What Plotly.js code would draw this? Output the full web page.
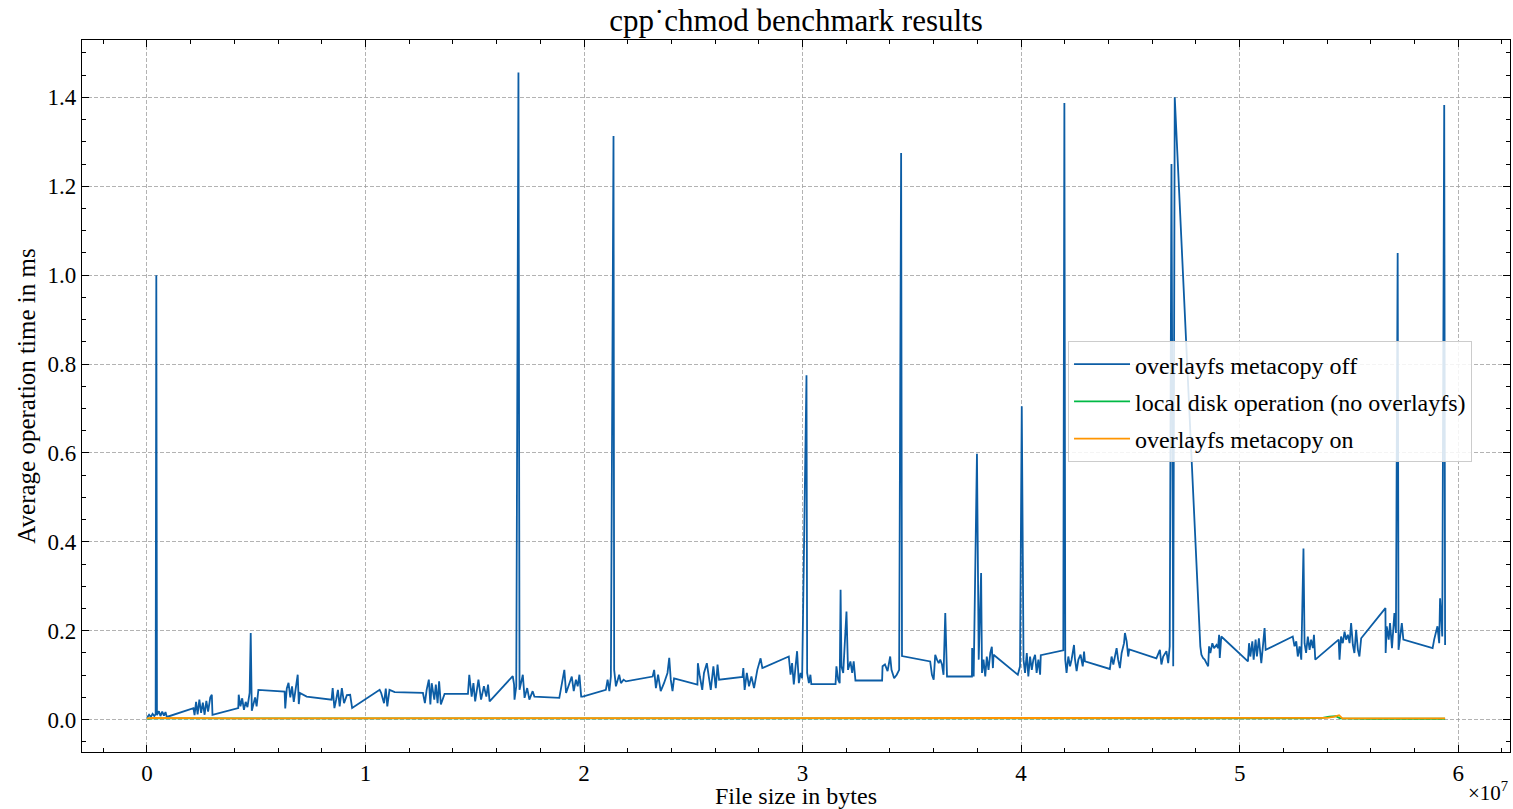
<!DOCTYPE html>
<html>
<head>
<meta charset="utf-8">
<script src="https://cdn.plot.ly/plotly-3.0.1.min.js"></script>
<style>html,body{margin:0;padding:0;background:#fff;}#chart{width:1513px;height:809px;}</style>
</head>
<body>
<div id="chart"></div>
<script>
// ---- data (file size in bytes, average time in ms) ----
const offX = [
0.000e7,0.010e7,0.018e7,0.026e7,0.034e7,0.040e7,0.043e7,0.046e7,0.055e7,0.062e7,0.070e7,0.078e7,0.085e7,0.091e7,
0.213e7,0.218e7,0.225e7,0.232e7,0.240e7,0.248e7,0.256e7,0.264e7,0.272e7,0.280e7,0.290e7,0.297e7,0.300e7,
0.418e7,0.420e7,0.428e7,0.436e7,0.444e7,0.452e7,0.460e7,0.470e7,0.475e7,0.480e7,0.488e7,0.495e7,0.502e7,0.510e7,
0.630e7,0.633e7,0.640e7,0.648e7,0.656e7,0.664e7,0.672e7,0.680e7,0.690e7,0.695e7,0.700e7,0.731e7,
0.845e7,0.850e7,0.858e7,0.866e7,0.874e7,0.882e7,0.892e7,0.902e7,0.915e7,0.930e7,0.939e7,
1.065e7,1.072e7,1.085e7,1.093e7,1.100e7,1.110e7,1.134e7,
1.263e7,1.272e7,1.280e7,1.290e7,1.297e7,1.303e7,1.315e7,1.322e7,1.330e7,1.337e7,1.345e7,1.362e7,
1.469e7,1.475e7,1.486e7,1.494e7,1.502e7,1.517e7,1.529e7,1.542e7,1.553e7,1.561e7,1.568e7,
1.674e7,1.680e7,1.682e7,1.690e7,1.700e7,1.705e7,1.720e7,1.728e7,1.740e7,1.750e7,1.765e7,1.773e7,
1.887e7,1.903e7,1.910e7,1.918e7,1.933e7,1.944e7,1.953e7,1.963e7,1.971e7,1.979e7,1.987e7,1.994e7,
2.100e7,2.108e7,2.116e7,2.123e7,2.135e7,2.138e7,2.146e7,2.161e7,2.169e7,2.181e7,2.192e7,
2.314e7,2.321e7,2.329e7,2.339e7,2.351e7,2.366e7,2.382e7,2.390e7,2.397e7,2.405e7,2.412e7,
2.519e7,2.521e7,2.530e7,2.541e7,2.549e7,2.562e7,2.573e7,2.580e7,2.592e7,2.603e7,2.611e7,2.618e7,
2.725e7,2.729e7,2.735e7,2.745e7,2.755e7,2.766e7,2.778e7,2.793e7,2.808e7,2.816e7,
2.937e7,2.945e7,2.952e7,2.960e7,2.968e7,2.975e7,2.983e7,2.991e7,2.998e7,3.018e7,3.021e7,3.029e7,3.036e7,3.040e7,
3.151e7,3.155e7,3.163e7,3.170e7,3.174e7,3.178e7,3.186e7,3.201e7,3.208e7,3.219e7,3.227e7,3.234e7,3.242e7,
3.364e7,3.366e7,3.377e7,3.389e7,3.401e7,3.407e7,3.419e7,3.431e7,3.442e7,3.451e7,3.455e7,
3.584e7,3.592e7,3.600e7,3.607e7,3.615e7,3.623e7,3.630e7,3.638e7,3.645e7,3.653e7,3.661e7,
3.775e7,3.776e7,3.783e7,3.798e7,3.806e7,3.817e7,3.821e7,3.828e7,3.836e7,3.843e7,3.851e7,3.859e7,3.866e7,3.871e7,3.874e7,
3.985e7,3.995e7,4.003e7,4.011e7,4.018e7,4.026e7,4.033e7,4.041e7,4.049e7,4.056e7,4.064e7,4.071e7,4.079e7,4.087e7,4.090e7,
4.193e7,4.198e7,4.202e7,4.208e7,4.216e7,4.224e7,4.231e7,4.242e7,4.246e7,4.254e7,4.262e7,4.272e7,4.282e7,4.288e7,4.292e7,
4.406e7,4.414e7,4.422e7,4.437e7,4.444e7,4.452e7,4.460e7,4.471e7,4.475e7,4.483e7,4.490e7,4.495e7,
4.619e7,4.627e7,4.635e7,4.642e7,4.650e7,4.665e7,4.673e7,4.680e7,4.688e7,4.696e7,4.703e7,
4.820e7,4.825e7,4.833e7,4.840e7,4.848e7,4.856e7,4.860e7,4.866e7,4.875e7,4.883e7,4.894e7,4.901e7,4.906e7,4.909e7,4.916e7,
5.038e7,5.043e7,5.049e7,5.058e7,5.064e7,5.073e7,5.079e7,5.088e7,5.099e7,5.107e7,5.114e7,5.119e7,
5.243e7,5.251e7,5.259e7,5.266e7,5.274e7,5.282e7,5.292e7,5.297e7,5.304e7,5.312e7,5.320e7,5.327e7,5.335e7,5.340e7,5.346e7,
5.453e7,5.457e7,5.464e7,5.472e7,5.480e7,5.487e7,5.495e7,5.503e7,5.510e7,5.518e7,5.525e7,5.533e7,5.541e7,5.548e7,5.556e7,
5.667e7,5.668e7,5.673e7,5.682e7,5.688e7,5.697e7,5.708e7,5.715e7,5.723e7,5.727e7,5.733e7,5.742e7,5.749e7,
5.883e7,5.890e7,5.897e7,5.905e7,5.913e7,5.917e7,5.923e7,5.927e7,5.936e7,5.940e7
];
const offY = [
0.004,0.011,0.006,0.013,0.008,0.012,1.000,0.010,0.019,0.008,0.018,0.009,0.017,0.006,
0.026,0.010,0.040,0.012,0.045,0.015,0.038,0.011,0.042,0.018,0.050,0.056,0.011,
0.026,0.056,0.030,0.048,0.022,0.040,0.028,0.060,0.195,0.020,0.035,0.050,0.030,0.067,
0.063,0.025,0.070,0.083,0.050,0.075,0.040,0.065,0.101,0.035,0.060,0.052,
0.045,0.071,0.026,0.045,0.067,0.030,0.071,0.037,0.055,0.056,0.026,
0.067,0.060,0.037,0.070,0.030,0.067,0.062,
0.060,0.037,0.067,0.090,0.034,0.082,0.045,0.079,0.037,0.086,0.034,0.058,
0.058,0.101,0.052,0.082,0.041,0.090,0.045,0.075,0.052,0.079,0.041,
0.098,0.079,0.045,0.075,1.456,0.067,0.101,0.049,0.071,0.045,0.064,0.052,
0.049,0.090,0.112,0.060,0.082,0.097,0.064,0.090,0.075,0.101,0.052,0.052,
0.067,0.090,0.064,0.097,1.313,0.112,0.075,0.101,0.082,0.090,0.086,
0.097,0.112,0.071,0.101,0.064,0.082,0.105,0.139,0.090,0.064,0.093,
0.079,0.127,0.097,0.067,0.105,0.127,0.090,0.067,0.120,0.071,0.124,0.090,
0.096,0.116,0.067,0.105,0.075,0.097,0.071,0.112,0.138,0.116,
0.142,0.101,0.127,0.079,0.120,0.154,0.082,0.105,0.093,0.775,0.105,0.082,0.101,0.080,
0.080,0.120,0.090,0.082,0.292,0.120,0.105,0.243,0.112,0.131,0.105,0.131,0.088,
0.088,0.120,0.124,0.109,0.142,0.112,0.093,0.101,0.112,1.275,0.143,
0.131,0.101,0.090,0.146,0.135,0.127,0.135,0.124,0.101,0.240,0.097,
0.097,0.161,0.097,0.598,0.135,0.330,0.105,0.135,0.097,0.142,0.112,0.150,0.164,0.116,0.146,
0.101,0.120,0.705,0.135,0.105,0.150,0.097,0.142,0.112,0.135,0.146,0.105,0.135,0.101,0.145,
0.156,1.387,0.135,0.105,0.142,0.120,0.135,0.168,0.138,0.109,0.135,0.146,0.120,0.153,0.131,
0.114,0.142,0.124,0.161,0.135,0.116,0.150,0.172,0.195,0.176,0.142,0.158,
0.138,0.150,0.157,0.124,0.142,0.154,0.127,0.165,1.250,0.120,1.400,
0.165,0.146,0.138,0.135,0.127,0.120,0.165,0.150,0.172,0.161,0.168,0.161,0.191,0.139,0.187,
0.131,0.172,0.142,0.176,0.135,0.180,0.142,0.183,0.127,0.168,0.206,0.157,
0.187,0.165,0.176,0.142,0.165,0.135,0.385,0.172,0.150,0.187,0.157,0.180,0.161,0.191,0.135,
0.180,0.135,0.187,0.172,0.198,0.180,0.191,0.172,0.217,0.168,0.150,0.202,0.157,0.142,0.183,
0.251,0.150,0.210,0.180,0.217,0.161,0.240,0.195,1.050,0.157,0.183,0.217,0.180,
0.161,0.180,0.195,0.210,0.172,0.273,0.225,0.187,1.383,0.168
];
const localX = [0.000e7,0.020e7,0.300e7,0.800e7,1.300e7,1.700e7,2.200e7,2.700e7,3.000e7,3.500e7,3.650e7,4.000e7,4.500e7,5.000e7,5.300e7,5.380e7,5.410e7,5.440e7,5.460e7,5.600e7,5.940e7];
const localY = [0.002,0.003,0.003,0.003,0.003,0.003,0.003,0.003,0.003,0.003,0.003,0.003,0.003,0.002,0.003,0.004,0.007,0.008,0.003,0.002,0.002];
const onX = [0.000e7,0.020e7,0.400e7,0.900e7,1.400e7,1.700e7,2.100e7,2.600e7,3.100e7,3.500e7,3.650e7,4.100e7,4.600e7,5.000e7,5.300e7,5.400e7,5.430e7,5.455e7,5.470e7,5.650e7,5.940e7];
const onY = [0.003,0.004,0.003,0.003,0.003,0.004,0.003,0.003,0.003,0.003,0.004,0.003,0.003,0.003,0.003,0.004,0.006,0.010,0.003,0.003,0.003];

const seriesNames = ['overlayfs metacopy off','local disk operation (no overlayfs)','overlayfs metacopy on'];
const xTickVals = [0,1e7,2e7,3e7,4e7,5e7,6e7];
const xTickText = ['0','1','2','3','4','5','6'];
const titleText = 'cpp˙chmod benchmark results';
const xTitle = 'File size in bytes';
const yTitle = 'Average operation time in ms';
const xExponent = '×10<sup>7</sup>';

const colors = ['#0C5DA5','#00B945','#FF9500'];
const FONT = '"Liberation Serif", "DejaVu Serif", serif';

const traces = [
  {x: offX, y: offY, name: seriesNames[0], legendgroup:'a'},
  {x: localX, y: localY, name: seriesNames[1], legendgroup:'b'},
  {x: onX, y: onY, name: seriesNames[2], legendgroup:'c'}
].map((t,i)=>Object.assign(t,{type:'scatter',mode:'lines',line:{color:colors[i],width:1.8},hoverinfo:'skip'}));

const axisCommon = {
  showline:true, linecolor:'#000', linewidth:1.2, mirror:'allticks',
  ticks:'inside', ticklen:7, tickwidth:1, tickcolor:'#000',
  showgrid:true, gridcolor:'#a0a0a0', griddash:'4px,2px', gridwidth:0.8,
  zeroline:false, tickfont:{family:FONT,size:23,color:'#000'}
};

const layout = {
  width:1513, height:809,
  margin:{l:82,r:3,t:40,b:57},
  paper_bgcolor:'#fff', plot_bgcolor:'#fff',
  font:{family:FONT,color:'#000',size:23},
  title:{text:titleText, x:0.5, xref:'paper', y:0.975, yref:'container', yanchor:'middle', font:{family:FONT,size:31,color:'#000'}},
  xaxis: Object.assign({}, axisCommon, {
    range:[-0.297e7, 6.237e7],
    tickmode:'array', tickvals:xTickVals, ticktext:xTickText,
    minor:{tickmode:'linear', tick0:0, dtick:2e6, ticks:'inside', ticklen:4, tickcolor:'#000', showgrid:false},
    title:{text:xTitle, font:{family:FONT,size:24}, standoff:12}
  }),
  yaxis: Object.assign({}, axisCommon, {
    range:[-0.0728, 1.529],
    tickmode:'linear', tick0:0, dtick:0.2, tickformat:'.1f',
    minor:{tickmode:'linear', tick0:0, dtick:0.05, ticks:'inside', ticklen:4, tickcolor:'#000', showgrid:false},
    title:{text:yTitle, font:{family:FONT,size:25}, standoff:4}
  }),
  showlegend:true,
  legend:{x:0.6905, y:0.5772, xanchor:'left', yanchor:'top', bgcolor:'rgba(255,255,255,0.85)', bordercolor:'#cccccc', borderwidth:1,
          font:{family:FONT,size:24,color:'#000'}, traceorder:'grouped', tracegroupgap:3, itemwidth:56},
  annotations:[{text:xExponent, xref:'paper', yref:'paper', x:1, y:-0.056, xanchor:'right', yanchor:'middle', showarrow:false, font:{family:FONT,size:21,color:'#000'}}]
};

Plotly.newPlot('chart', traces, layout, {displayModeBar:false, staticPlot:true});
</script>
</body>
</html>
